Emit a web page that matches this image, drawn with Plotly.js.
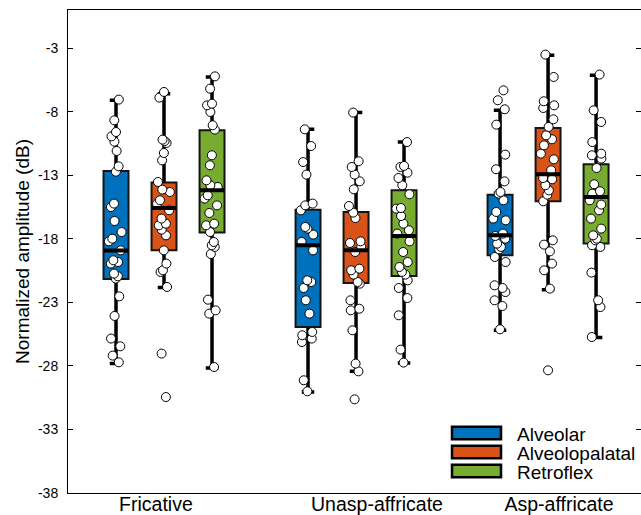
<!DOCTYPE html>
<html><head><meta charset="utf-8">
<script src="https://cdn.plot.ly/plotly-3.0.1.min.js"></script>
<style>html,body{margin:0;padding:0;background:#fff}#chart{width:641px;height:515px}</style>
</head><body><div id="chart"></div>
<script>
// ---------------- DATA ----------------
const categories = ['Fricative', 'Unasp-affricate', 'Asp-affricate'];
const seriesNames = ['Alveolar', 'Alveolopalatal', 'Retroflex'];
const yTitle = 'Normalized amplitude (dB)';
const yTicks = [-38, -33, -28, -23, -18, -13, -8, -3];
const yTickLabels = ['-38', '-33', '-28', '-23', '-18', '-13', '-8', '-3'];

// box statistics, one value per category (Fricative, Unasp-affricate, Asp-affricate)
const alveolarQ1 = [-21.16, -24.94, -19.30];
const alveolarMedian = [-18.93, -18.51, -17.73];
const alveolarQ3 = [-12.67, -15.71, -14.53];
const alveolarLowerWhisker = [-27.82, -30.05, -25.20];
const alveolarUpperWhisker = [-7.10, -9.39, -7.89];

const alveolopalatalQ1 = [-18.91, -21.48, -15.05];
const alveolopalatalMedian = [-15.58, -18.91, -12.93];
const alveolopalatalQ3 = [-13.58, -15.89, -9.28];
const alveolopalatalLowerWhisker = [-21.84, -28.43, -22.00];
const alveolopalatalUpperWhisker = [-6.58, -8.07, -3.56];

const retroflexQ1 = [-17.51, -20.93, -18.38];
const retroflexMedian = [-14.19, -17.78, -14.71];
const retroflexQ3 = [-9.46, -14.19, -12.14];
const retroflexLowerWhisker = [-28.17, -27.77, -25.77];
const retroflexUpperWhisker = [-5.27, -10.39, -5.14];

// individual observations
const alveolarFricative = [-7.05, -8.68, -9.60, -9.94, -10.36, -11.09, -12.30, -12.72, -15.23, -15.50, -16.60, -17.47, -17.99, -18.20, -18.91, -19.69, -19.83, -19.95, -20.74, -20.95, -21.13, -22.53, -24.07, -25.85, -26.46, -27.19, -27.72];
const alveolarUnasp = [-9.39, -10.70, -11.96, -12.95, -15.23, -15.37, -15.76, -17.07, -17.20, -17.67, -18.25, -18.91, -21.27, -21.40, -21.87, -22.84, -23.89, -25.33, -25.59, -25.85, -26.12, -29.13, -30.00];
const alveolarAsp = [-6.32, -7.10, -7.81, -9.02, -11.38, -12.53, -13.48, -14.32, -14.45, -14.97, -15.89, -16.41, -16.55, -17.59, -17.78, -17.99, -18.38, -18.64, -18.83, -19.43, -19.83, -21.66, -21.87, -22.19, -22.84, -23.29, -25.12];

const alveolopalatalFricative = [-6.45, -6.89, -10.20, -10.31, -10.46, -11.25, -11.83, -13.53, -14.13, -14.32, -14.97, -15.23, -15.76, -16.41, -16.81, -16.94, -17.28, -17.73, -18.91, -19.95, -20.48, -20.61, -21.79, -27.03, -30.45];
const alveolopalatalUnasp = [-8.07, -11.90, -12.35, -12.95, -13.48, -14.11, -15.42, -15.94, -16.37, -18.20, -18.33, -18.64, -19.04, -20.35, -20.48, -20.82, -21.40, -21.53, -22.84, -23.50, -23.63, -25.20, -27.82, -28.43, -30.63];
const alveolopalatalAsp = [-3.51, -5.27, -7.18, -7.50, -7.71, -8.60, -9.20, -9.86, -10.17, -10.65, -11.30, -11.75, -12.61, -13.22, -13.32, -13.79, -14.19, -14.53, -15.05, -18.12, -18.46, -18.99, -19.95, -20.48, -21.92, -28.35];

const retroflexFricative = [-5.22, -6.19, -7.37, -7.50, -8.02, -9.07, -9.41, -11.43, -12.22, -13.40, -13.79, -13.92, -14.58, -14.84, -15.37, -15.97, -16.81, -16.94, -17.47, -18.25, -18.51, -18.64, -19.20, -22.79, -23.63, -23.89, -28.09];
const retroflexUnasp = [-10.39, -12.27, -12.35, -12.80, -13.22, -13.79, -14.50, -15.58, -15.63, -16.21, -16.81, -17.33, -17.59, -18.20, -19.04, -19.83, -20.22, -20.61, -20.82, -21.27, -21.87, -22.66, -24.02, -26.72, -27.74];
const retroflexAsp = [-5.08, -7.89, -8.81, -10.39, -11.30, -11.43, -11.69, -12.43, -13.71, -14.26, -14.45, -14.97, -15.31, -15.76, -16.41, -17.20, -17.73, -17.99, -18.12, -18.51, -18.64, -20.66, -22.84, -23.37, -25.73];

// ---------------- STYLE / LAYOUT CONSTANTS ----------------
const seriesColors = ['#0072BD', '#D95319', '#77AC30'];
const SERIES_OFFSETS = [-0.25, 0, 0.25];
const BOX_WIDTH = 0.13;
const LABEL_SHIFT = [-0.042, 0.109, 0.057];
const FONT = '"Liberation Sans", Arial, Helvetica, sans-serif';

const stats = [
  {q1: alveolarQ1, med: alveolarMedian, q3: alveolarQ3, lo: alveolarLowerWhisker, hi: alveolarUpperWhisker,
   pts: [alveolarFricative, alveolarUnasp, alveolarAsp]},
  {q1: alveolopalatalQ1, med: alveolopalatalMedian, q3: alveolopalatalQ3, lo: alveolopalatalLowerWhisker, hi: alveolopalatalUpperWhisker,
   pts: [alveolopalatalFricative, alveolopalatalUnasp, alveolopalatalAsp]},
  {q1: retroflexQ1, med: retroflexMedian, q3: retroflexQ3, lo: retroflexLowerWhisker, hi: retroflexUpperWhisker,
   pts: [retroflexFricative, retroflexUnasp, retroflexAsp]}
];

const groupPos = categories.map((c, i) => i + 1);

const whiskerTraces = [], boxTraces = [], pointTraces = [], medianTraces = [];
stats.forEach((s, si) => {
  const xs = groupPos.map(p => p + SERIES_OFFSETS[si]);
  whiskerTraces.push({
    type: 'box', x: xs, q1: s.med, median: s.med, q3: s.med, lowerfence: s.lo, upperfence: s.hi,
    width: BOX_WIDTH, whiskerwidth: 0.5, fillcolor: 'rgba(0,0,0,0)',
    line: {color: '#000', width: 3.5}, showlegend: false, hoverinfo: 'skip'
  });
  boxTraces.push({
    type: 'box', name: seriesNames[si], x: xs, q1: s.q1, median: s.med, q3: s.q3, lowerfence: s.q1, upperfence: s.q3,
    width: BOX_WIDTH, whiskerwidth: 0, fillcolor: seriesColors[si],
    line: {color: '#141414', width: 2}, showlegend: false
  });
  const px = [], py = [];
  s.pts.forEach((arr, gi) => arr.forEach(v => { px.push(groupPos[gi] + SERIES_OFFSETS[si]); py.push(v); }));
  pointTraces.push({
    type: 'box', x: px, y: py, boxpoints: 'all', jitter: 0.65, pointpos: 0,
    width: BOX_WIDTH, whiskerwidth: 0, fillcolor: 'rgba(0,0,0,0)', line: {color: 'rgba(0,0,0,0)', width: 0},
    marker: {color: '#fff', size: 9, line: {color: '#000', width: 1}}, showlegend: false, hoverinfo: 'y'
  });
  medianTraces.push({
    type: 'box', x: xs, q1: s.med, median: s.med, q3: s.med, lowerfence: s.med, upperfence: s.med,
    width: BOX_WIDTH * 0.97, whiskerwidth: 0, fillcolor: 'rgba(0,0,0,0)',
    line: {color: '#000', width: 4}, showlegend: false, hoverinfo: 'skip'
  });
});

// manual legend (wide swatches like the reference)
const W = 641, H = 515, ML = 68, MR = 0, MT = 10, MB = 22;
const pw = W - ML - MR, ph = H - MT - MB;
const toPX = x => (x - ML) / pw, toPY = y => (H - MB - y) / ph;
const LEG_X0 = 452, LEG_X1 = 501, LEG_Y0 = 433, LEG_DY = 19, LEG_H = 12.5, LEG_TX = 515;
const shapes = [], annotations = [];
seriesNames.forEach((n, i) => {
  const cy = LEG_Y0 + i * LEG_DY;
  shapes.push({type: 'rect', xref: 'paper', yref: 'paper',
    x0: toPX(LEG_X0), x1: toPX(LEG_X1), y0: toPY(cy + LEG_H / 2), y1: toPY(cy - LEG_H / 2),
    fillcolor: seriesColors[i], line: {color: '#000', width: 2.5}});
  annotations.push({xref: 'paper', yref: 'paper', x: toPX(LEG_TX), y: toPY(cy + 1), text: n,
    showarrow: false, xanchor: 'left', yanchor: 'middle', font: {size: 19, color: '#000', family: FONT}});
});

const layout = {
  width: W, height: H,
  margin: {l: ML, r: MR, t: MT, b: MB, pad: 0},
  paper_bgcolor: '#fff', plot_bgcolor: '#fff',
  font: {family: FONT, color: '#000'},
  boxmode: 'overlay',
  showlegend: false,
  xaxis: {
    range: [0.5, 3.484], tickvals: groupPos.map((p, i) => p + LABEL_SHIFT[i]), ticktext: categories,
    ticks: '', showline: true, linecolor: '#000', linewidth: 1, mirror: true,
    showgrid: false, zeroline: false, tickfont: {size: 19.5, family: FONT, color: '#000'}, ticklabelstandoff: -6
  },
  yaxis: {
    range: [-38, 0], tickmode: 'array', tickvals: yTicks, ticktext: yTickLabels,
    ticks: 'inside', ticklen: 5, tickwidth: 1, tickcolor: '#000',
    showline: true, mirror: 'ticks', linecolor: '#000', linewidth: 1,
    showgrid: false, zeroline: false, tickfont: {size: 14, family: FONT, color: '#000'}, ticklabelstandoff: 6,
    title: {text: yTitle, font: {size: 19, family: FONT, color: '#000'}, standoff: 3}
  },
  shapes: shapes, annotations: annotations
};

Plotly.newPlot('chart', [...whiskerTraces, ...boxTraces, ...pointTraces, ...medianTraces], layout,
  {displayModeBar: false, staticPlot: true});
</script>
</body></html>
